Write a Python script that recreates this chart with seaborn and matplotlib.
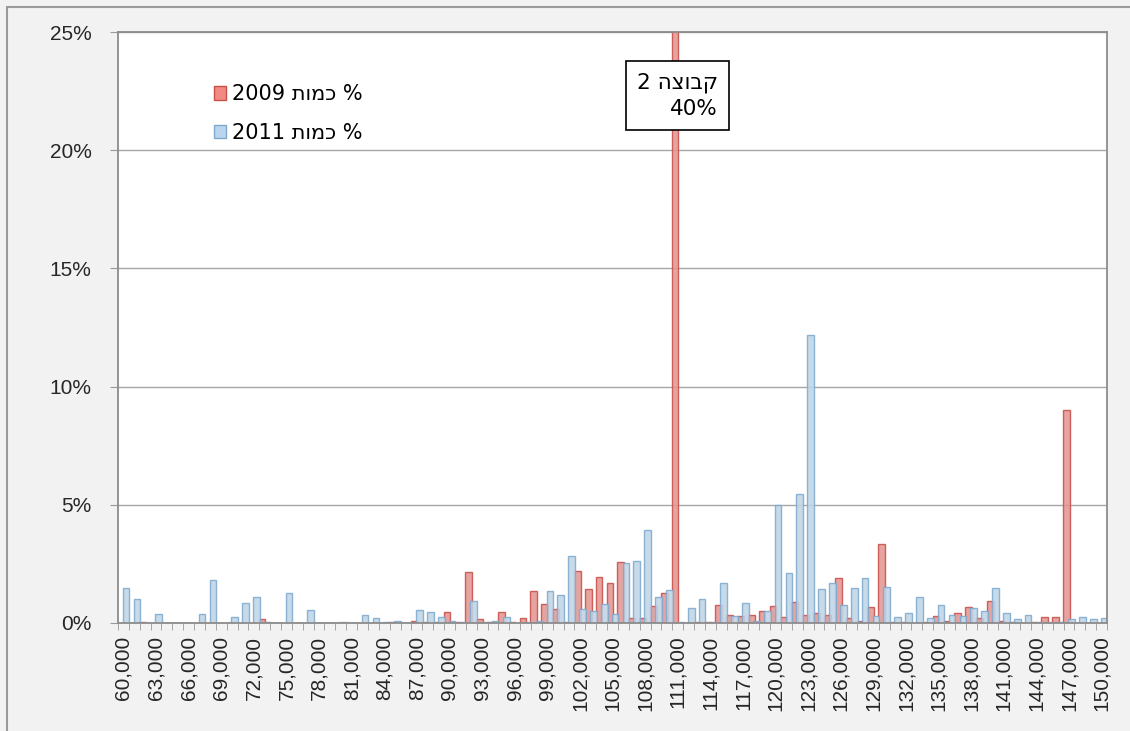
import re
import matplotlib
matplotlib.use('Agg')
import matplotlib.pyplot as plt
from matplotlib.patches import Patch, Rectangle
from matplotlib.ticker import FuncFormatter, FixedLocator
import seaborn as sns
import pandas as pd

# salary brackets 60,000 .. 150,000 (step 1,000)
salaries = list(range(60000, 150001, 1000))

# percent of people per bracket
pct_2009 = [0, 0, 0.05, 0, 0, 0, 0, 0, 0, 0,
            0, 0, 0, 0.15, 0, 0, 0, 0, 0, 0,
            0, 0, 0, 0, 0, 0.05, 0, 0.1, 0.05, 0.05,
            0.45, 0.05, 2.15, 0.15, 0.05, 0.45, 0.05, 0.2, 1.35, 0.8,
            0.6, 0.05, 2.2, 1.45, 1.95, 1.68, 2.6, 0.2, 0.2, 0.72,
            1.28, 40, 0, 0.05, 0.05, 0.76, 0.35, 0.3, 0.34, 0.5,
            0.72, 0.25, 0.9, 0.35, 0.44, 0.34, 1.89, 0.2, 0.1, 0.69,
            3.33, 0.05, 0.05, 0, 0.05, 0.3, 0.1, 0.44, 0.69, 0.2,
            0.94, 0.1, 0.05, 0, 0.05, 0.27, 0.27, 9.0, 0, 0,
            0]
pct_2011 = [1.5, 1.0, 0, 0.4, 0, 0, 0, 0.4, 1.8, 0,
            0.25, 0.85, 1.1, 0.05, 0, 1.25, 0, 0.55, 0, 0,
            0.05, 0, 0.35, 0.2, 0.05, 0.1, 0, 0.55, 0.45, 0.25,
            0.1, 0.05, 0.95, 0.05, 0.1, 0.25, 0, 0.05, 0.1, 1.35,
            1.2, 2.85, 0.6, 0.5, 0.8, 0.4, 2.55, 2.62, 3.93, 1.1,
            1.4, 0.05, 0.62, 1.0, 0.05, 1.68, 0.3, 0.83, 0.1, 0.5,
            5.0, 2.1, 5.45, 12.2, 1.44, 1.68, 0.76, 1.47, 1.89, 0.3,
            1.54, 0.27, 0.41, 1.1, 0.2, 0.76, 0.34, 0.3, 0.62, 0.52,
            1.47, 0.41, 0.15, 0.34, 0.05, 0.05, 0.05, 0.15, 0.27, 0.15,
            0.2]

label_2009 = '% כמות 2009'
label_2011 = '% כמות 2011'
note_text = ['קבוצה 2', '40%']


def rtl(s):
    # matplotlib has no bidi support: put the RTL line in display order, digits kept LTR
    s = s[::-1]
    return re.sub(r'[0-9]+', lambda m: m.group(0)[::-1], s)


red_fill, red_edge = '#F28A84', '#C8504B'
blue_fill, blue_edge = '#B9D6EE', '#7FA9CF'

plt.rcParams['font.family'] = ['Liberation Sans', 'DejaVu Sans']

df = pd.DataFrame({
    'salary': salaries * 2,
    'pct': pct_2009 + pct_2011,
    'year': [rtl(label_2009)] * len(salaries) + [rtl(label_2011)] * len(salaries),
})

fig = plt.figure(figsize=(11.3, 7.31), dpi=100, facecolor='#F2F2F2')
ax = fig.add_axes([118 / 1130, 1 - 623 / 731, 989 / 1130, 591 / 731])
ax.set_facecolor('white')

sns.barplot(data=df, x='salary', y='pct', hue='year',
            palette=[red_fill, blue_fill], width=0.95, legend=False,
            linewidth=1.0, ax=ax)
for cont, ec in zip(ax.containers, [red_edge, blue_edge]):
    for bar in cont:
        # excel-like overlap of the two series
        w = bar.get_width()
        bar.set_x(bar.get_x() - w * 0.15)
        bar.set_width(w * 1.3)
        bar.set_edgecolor(ec)
        bar.set_alpha(0.88)

ax.set_ylim(0, 25)
ax.set_xlim(-0.5, len(salaries) - 0.5)
ax.set_yticks([0, 5, 10, 15, 20, 25])
ax.yaxis.set_major_formatter(FuncFormatter(lambda v, _: f'{v:.0f}%'))
ax.set_xticks(range(0, len(salaries), 3))
ax.set_xticklabels([f'{s:,}' for s in salaries[::3]], rotation=90)
ax.xaxis.set_minor_locator(FixedLocator([i - 0.5 for i in range(len(salaries) + 1)]))
ax.tick_params(axis='x', which='major', length=0, pad=9, labelsize=15, labelcolor='#262626')
ax.tick_params(axis='x', which='minor', length=5, color='#999999')
ax.tick_params(axis='y', length=6, pad=13, labelsize=15, labelcolor='#262626', color='#999999')
ax.set_xlabel('')
ax.set_ylabel('')

ax.grid(axis='y', color='#A6A6A6', linewidth=1.0)
ax.set_axisbelow(True)
for side in ['top', 'right', 'left', 'bottom']:
    ax.spines[side].set_color('#8C8C8C')
    ax.spines[side].set_linewidth(1.3)

handles = [Patch(facecolor=red_fill, edgecolor=red_edge, label=rtl(label_2009)),
           Patch(facecolor=blue_fill, edgecolor=blue_edge, label=rtl(label_2011))]
ax.legend(handles=handles, loc='upper left', bbox_to_anchor=(0.078, 0.943),
          frameon=False, prop={'family': 'DejaVu Sans', 'size': 15},
          handlelength=0.6, handleheight=0.6, handletextpad=0.25, labelspacing=0.9)

ax.text(0.6067, 0.932, rtl(note_text[0]) + '\n' + note_text[1],
        transform=ax.transAxes, ha='right', va='top', fontsize=15.5, family='DejaVu Sans',
        multialignment='right', linespacing=1.4, zorder=5,
        bbox=dict(boxstyle='square,pad=0.5', facecolor='white', edgecolor='black', linewidth=1.2))

# outer frame of the chart
fig.add_artist(Rectangle((7 / 1130, -0.1), 1.2, 1.1 - 7 / 731, transform=fig.transFigure,
                         fill=False, edgecolor='#9A9A9A', linewidth=1.5))

fig.savefig('out.png', dpi=100, facecolor=fig.get_facecolor())
